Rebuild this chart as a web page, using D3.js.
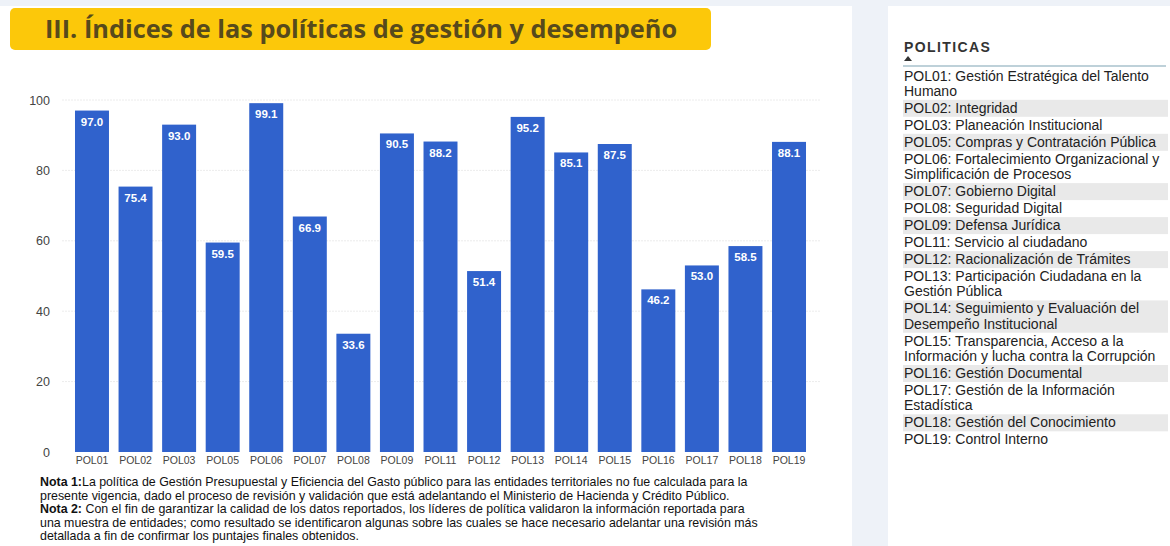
<!DOCTYPE html>
<html><head><meta charset="utf-8">
<script src="https://cdn.jsdelivr.net/npm/d3@7"></script>
<style>
html,body{margin:0;padding:0;background:#eef2f8;}
svg{display:block;font-family:"Liberation Sans",Arial,sans-serif;}
</style></head>
<body>
<svg id="c" width="1170" height="546"></svg>
<script>
const categories = ["POL01","POL02","POL03","POL05","POL06","POL07","POL08","POL09","POL11","POL12","POL13","POL14","POL15","POL16","POL17","POL18","POL19"];
const values = [97.0,75.4,93.0,59.5,99.1,66.9,33.6,90.5,88.2,51.4,95.2,85.1,87.5,46.2,53.0,58.5,88.1];
const yTicks = [0,20,40,60,80,100];
const title = "III. Índices de las políticas de gestión y desempeño";
const legendTitle = "POLITICAS";
const legendItems = [
  ["POL01: Gestión Estratégica del Talento","Humano"],
  ["POL02: Integridad"],
  ["POL03: Planeación Institucional"],
  ["POL05: Compras y Contratación Pública"],
  ["POL06: Fortalecimiento Organizacional y","Simplificación de Procesos"],
  ["POL07: Gobierno Digital"],
  ["POL08: Seguridad Digital"],
  ["POL09: Defensa Jurídica"],
  ["POL11: Servicio al ciudadano"],
  ["POL12: Racionalización de Trámites"],
  ["POL13: Participación Ciudadana en la","Gestión Pública"],
  ["POL14: Seguimiento y Evaluación del","Desempeño Institucional"],
  ["POL15: Transparencia, Acceso a la","Información y lucha contra la Corrupción"],
  ["POL16: Gestión Documental"],
  ["POL17: Gestión de la Información","Estadística"],
  ["POL18: Gestión del Conocimiento"],
  ["POL19: Control Interno"]
];
const notes = [
  [["Nota 1:",true],["La política de Gestión Presupuestal y Eficiencia del Gasto público para las entidades territoriales no fue calculada para la",false]],
  [["presente vigencia, dado el proceso de revisión y validación que está adelantando el Ministerio de Hacienda y Crédito Público.",false]],
  [["Nota 2:",true],[" Con el fin de garantizar la calidad de los datos reportados, los líderes de política validaron la información reportada para",false]],
  [["una muestra de entidades; como resultado se identificaron algunas sobre las cuales se hace necesario adelantar una revisión más",false]],
  [["detallada a fin de confirmar los puntajes finales obtenidos.",false]]
];

const svg = d3.select("#c");
// panels
svg.append("rect").attr("x",0).attr("y",6).attr("width",852).attr("height",540).attr("fill","#fff");
svg.append("rect").attr("x",888).attr("y",6).attr("width",282).attr("height",540).attr("fill","#fff");

// title banner
svg.append("rect").attr("x",10).attr("y",8).attr("width",701).attr("height",42).attr("rx",5)
  .attr("fill","#fcc80a");
svg.append("text").attr("x",45).attr("y",38).text(title)
  .attr("font-family","'Open Sans','Noto Sans',sans-serif").attr("font-weight","bold")
  .attr("font-size",25.3).attr("fill","#574a1c");

// scales
const x = d3.scaleBand().domain(categories).range([70.2,810.8]).paddingInner(0.22).paddingOuter(0.11);
const y = d3.scaleLinear().domain([0,100]).range([452,100]);

// grid
const g = svg.append("g");
g.selectAll("line.grid").data(yTicks.filter(d=>d>0)).join("line")
  .attr("x1",62).attr("x2",820).attr("y1",d=>y(d)).attr("y2",d=>y(d))
  .attr("stroke","#ececec").attr("stroke-width",1).attr("stroke-dasharray","2,1");

// y axis
const ya = svg.append("g").attr("transform","translate(50,0)")
  .call(d3.axisLeft(y).tickValues(yTicks).tickSize(0).tickPadding(0));
ya.select(".domain").remove();
ya.selectAll("text").attr("font-size",12.5).attr("fill","#444").attr("font-family","'Liberation Sans',Arial,sans-serif");

// bars
svg.selectAll("rect.bar").data(values).join("rect").attr("class","bar")
  .attr("x",(d,i)=>x(categories[i])).attr("width",x.bandwidth())
  .attr("y",d=>y(d)).attr("height",d=>y(0)-y(d)).attr("fill","#3062cc");
svg.selectAll("text.lbl").data(values).join("text").attr("class","lbl")
  .attr("x",(d,i)=>x(categories[i])+x.bandwidth()/2).attr("y",d=>y(d)+15)
  .attr("text-anchor","middle").attr("font-size",11.5).attr("font-weight","bold")
  .attr("fill","#fff").text(d=>d.toFixed(1));

// x axis
const xa = svg.append("g").attr("transform",`translate(0,${y(0)})`)
  .call(d3.axisBottom(x).tickSize(0).tickPadding(5));
xa.select(".domain").remove();
xa.selectAll("text").attr("font-size",10.5).attr("fill","#444").attr("font-family","'Liberation Sans',Arial,sans-serif");

// notes
const nt = svg.append("g");
notes.forEach((line,i)=>{
  const t = nt.append("text").attr("x",40).attr("y",486+i*13.6)
    .attr("font-size",12.4).attr("fill","#111").attr("font-family","'Liberation Sans',Arial,sans-serif");
  line.forEach(([s,b])=>t.append("tspan").attr("font-weight",b?"bold":"normal").text(s));
});

// legend
svg.append("text").attr("x",904).attr("y",52).text(legendTitle)
  .attr("font-size",14).attr("font-weight","bold").attr("letter-spacing",1.4).attr("fill","#333");
svg.append("path").attr("d","M904,61 L908,56 L912,61 Z").attr("fill","#333");
svg.append("line").attr("x1",903).attr("x2",1166).attr("y1",66).attr("y2",66).attr("stroke","#7fa3b3").attr("stroke-width",1.2);
let yy = 67.5;
legendItems.forEach((lines,i)=>{
  const h = lines.length===1 ? 17 : 32.3;
  if(i%2===1) svg.append("rect").attr("x",903).attr("y",yy).attr("width",265).attr("height",h).attr("fill","#e9e9e9");
  lines.forEach((ln,j)=>{
    svg.append("text").attr("x",904).attr("y",yy+13+j*15.3).text(ln)
      .attr("font-size",14).attr("fill","#222");
  });
  yy += h;
});
</script>
</body></html>
